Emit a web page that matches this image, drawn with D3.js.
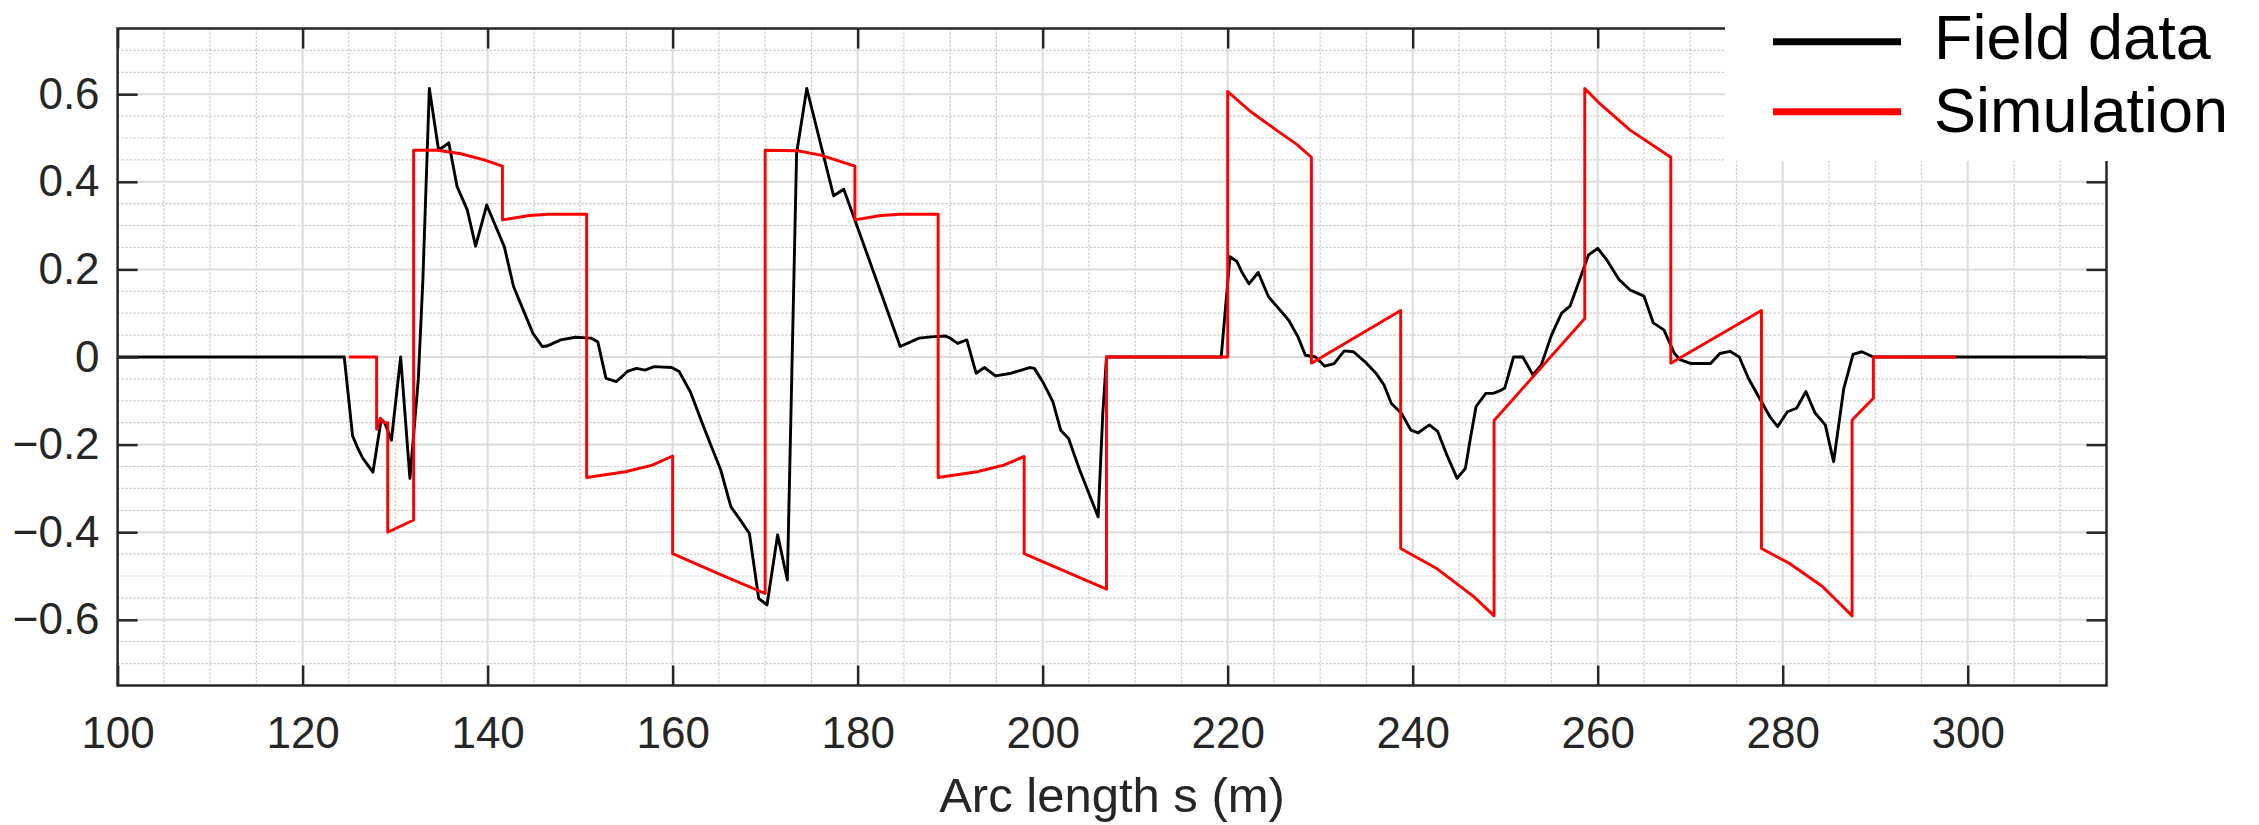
<!DOCTYPE html>
<html>
<head>
<meta charset="utf-8">
<script src="https://cdn.jsdelivr.net/npm/d3@7"></script>
<style>
  html, body { margin: 0; padding: 0; background: #fff; }
  svg { display: block; font-family: "Liberation Sans", Arial, Helvetica, sans-serif; }
</style>
</head>
<body>
<svg id="chart" width="2259" height="825"></svg>
<script>
// Field measurement: arc length (m) and value
const fieldS = [100, 124.5, 125.4, 125.9, 126.5, 127.6, 128.5, 128.9, 129.6, 130.6, 131.6, 132.5, 133.0, 133.7, 134.7,
  135.8, 136.7, 137.8, 138.7, 139.9, 141.8, 142.8, 143.7, 144.9, 145.9, 146.4, 147.9, 149.5, 151.2, 151.9,
  152.8, 153.9, 154.3, 155.1, 156.1, 157.0, 158.0, 159.9, 160.7, 161.9, 163.2, 164.2, 165.2, 166.3, 167.3,
  168.3, 169.3, 170.2, 171.35, 172.4, 173.4, 174.5, 177.4, 178.5, 179.7, 184.6, 186.65, 187.9, 189.5, 190.0,
  190.8, 191.8, 192.8, 193.7, 194.9, 196.6, 198.6, 199.1, 200.1, 201.1, 201.95, 202.8, 204.0, 206.0, 206.5,
  206.9, 219.3, 220.25, 221.0, 221.6, 222.3, 223.3, 224.4, 225.5, 226.6, 227.6, 228.4, 229.5, 230.5, 231.5,
  232.6, 233.6, 234.85, 236.1, 236.9, 237.7, 238.8, 239.8, 240.6, 241.8, 242.7, 243.7, 244.8, 245.7, 246.2,
  246.85, 247.9, 248.7, 249.45, 249.95, 250.9, 251.9, 253.0, 253.9, 255.0, 256.1, 257.0, 257.9, 259.0, 260.0,
  261.0, 262.3, 263.5, 265.0, 266.0, 267.15, 268.3, 268.9, 270.1, 272.2, 273.2, 274.3, 275.3, 276.3, 277.6,
  278.6, 279.45, 280.5, 281.5, 282.5, 283.5, 284.6, 285.5, 286.6, 287.6, 288.55, 289.8, 315];
const fieldV = [0, 0, -0.18, -0.205, -0.231, -0.263, -0.142, -0.151, -0.190, 0.0, -0.277, -0.053, 0.176, 0.613, 0.472,
  0.489, 0.389, 0.336, 0.253, 0.347, 0.252, 0.161, 0.115, 0.054, 0.024, 0.025, 0.039, 0.045, 0.043, 0.035,
  -0.049, -0.056, -0.049, -0.033, -0.026, -0.030, -0.022, -0.024, -0.033, -0.079, -0.151, -0.205, -0.258, -0.342, -0.372,
  -0.403, -0.551, -0.566, -0.406, -0.509, 0.465, 0.613, 0.368, 0.383, 0.313, 0.024, 0.043, 0.046, 0.048, 0.043,
  0.031, 0.039, -0.037, -0.024, -0.043, -0.037, -0.024, -0.026, -0.060, -0.102, -0.167, -0.186, -0.258, -0.365, -0.129,
  0, 0, 0.229, 0.218, 0.191, 0.167, 0.193, 0.138, 0.111, 0.084, 0.046, 0.004, 0.0, -0.021, -0.015,
  0.014, 0.012, -0.011, -0.039, -0.064, -0.106, -0.129, -0.167, -0.173, -0.155, -0.170, -0.224, -0.277, -0.254, -0.190,
  -0.113, -0.083, -0.083, -0.077, -0.071, 0, 0, -0.041, -0.018, 0.050, 0.100, 0.116, 0.168, 0.233, 0.248,
  0.221, 0.177, 0.153, 0.139, 0.078, 0.062, 0.008, -0.006, -0.015, -0.015, 0.008, 0.013, 0.0, -0.049, -0.098,
  -0.136, -0.159, -0.125, -0.117, -0.079, -0.128, -0.155, -0.239, -0.072, 0.006, 0.012, 0.0, 0];

// Simulation output: arc length (m) and value
const simS = [125.0, 128.0, 128.0, 128.4, 128.8, 129.2, 129.2, 132.0, 132.0, 134.6, 137.1, 139.6, 141.6, 141.6,
  144.5, 146.6, 150.7, 150.7, 154.9, 157.8, 160.0, 160.0, 165.0, 170.0, 170.0, 173.5, 176.0, 179.7, 179.7,
  182.5, 184.6, 188.7, 188.7, 192.9, 195.8, 198.0, 198.0, 202.5, 206.9, 206.9, 220.0, 220.0, 222.5, 225.0,
  227.5, 229.05, 229.05, 238.7, 238.7, 242.6, 246.6, 248.8, 248.8, 258.6, 258.6, 260.2, 263.5, 267.9, 267.9,
  277.7, 277.7, 280.7, 284.3, 287.5, 287.5, 289.8, 289.8, 298.7];
const simV = [0, 0, -0.165, -0.14, -0.15, -0.15, -0.400, -0.372, 0.472, 0.472, 0.464, 0.450, 0.436, 0.313,
  0.323, 0.326, 0.326, -0.275, -0.262, -0.247, -0.226, -0.449, -0.495, -0.540, 0.472, 0.471, 0.461, 0.436, 0.313,
  0.323, 0.326, 0.326, -0.275, -0.262, -0.247, -0.227, -0.449, -0.490, -0.530, 0, 0, 0.606, 0.560, 0.522,
  0.485, 0.456, -0.014, 0.106, -0.437, -0.483, -0.547, -0.591, -0.145, 0.088, 0.613, 0.579, 0.518, 0.456, -0.014,
  0.106, -0.437, -0.471, -0.524, -0.591, -0.144, -0.094, 0, 0];

const xTicks = [100, 120, 140, 160, 180, 200, 220, 240, 260, 280, 300];
const yTicks = [-0.6, -0.4, -0.2, 0, 0.2, 0.4, 0.6];
const xLabel = "Arc length s (m)";
const seriesNames = ["Field data", "Simulation"];
const seriesColors = ["#000000", "#ff0000"];

const svg = d3.select("#chart");
const plot = { left: 117.6, right: 2106.5, top: 28.5, bottom: 685.5 };
const W = plot.right - plot.left, H = plot.bottom - plot.top;
const axisColor = "#262626";

const x = d3.scaleLinear().domain([100, 315]).range([0, W]);
const y = d3.scaleLinear().domain([-0.75, 0.75]).range([H, 0]);

const g = svg.append("g").attr("transform", `translate(${plot.left},${plot.top})`);

// grid: minor dotted every 5 m / 0.05, major solid at tick positions
const minorX = d3.range(105, 315, 5).filter(v => v % 20 !== 0);
const minorY = d3.range(-14, 15).map(k => k * 0.05).filter(v => Math.abs(Math.round(v * 100)) % 20 !== 0);
const majorX = xTicks.filter(v => v > 100);
const majorY = yTicks;

g.append("g").selectAll("line").data(minorX).join("line")
  .attr("x1", d => x(d)).attr("x2", d => x(d)).attr("y1", 0).attr("y2", H)
  .attr("stroke", "#c2c2c2").attr("stroke-width", 1.2).attr("stroke-dasharray", "2,2");
g.append("g").selectAll("line").data(minorY).join("line")
  .attr("y1", d => y(d)).attr("y2", d => y(d)).attr("x1", 0).attr("x2", W)
  .attr("stroke", "#c2c2c2").attr("stroke-width", 1.2).attr("stroke-dasharray", "2,2");
g.append("g").selectAll("line").data(majorX).join("line")
  .attr("x1", d => x(d)).attr("x2", d => x(d)).attr("y1", 0).attr("y2", H)
  .attr("stroke", "#dcdcdc").attr("stroke-width", 2);
g.append("g").selectAll("line").data(majorY).join("line")
  .attr("y1", d => y(d)).attr("y2", d => y(d)).attr("x1", 0).attr("x2", W)
  .attr("stroke", "#dcdcdc").attr("stroke-width", 2);

// data lines (simulation drawn over field data)
const line = d3.line().x(d => x(d[0])).y(d => y(d[1]));
const fieldPts = fieldS.map((s, i) => [s, fieldV[i]]);
const simPts = simS.map((s, i) => [s, simV[i]]);

g.append("path").datum(fieldPts).attr("d", line)
  .attr("fill", "none").attr("stroke", seriesColors[0]).attr("stroke-width", 2.9).attr("stroke-linejoin", "round");
g.append("path").datum(simPts).attr("d", line)
  .attr("fill", "none").attr("stroke", seriesColors[1]).attr("stroke-width", 2.9).attr("stroke-linejoin", "round");

// axes with inward ticks
const styleAxis = sel => {
  sel.select(".domain").remove();
  sel.selectAll(".tick line").attr("stroke", axisColor).attr("stroke-width", 2.5);
  sel.selectAll(".tick text").attr("fill", axisColor).attr("font-size", 44)
    .attr("font-family", "'Liberation Sans', Arial, Helvetica, sans-serif");
};
g.append("g").attr("transform", `translate(0,${H})`)
  .call(d3.axisBottom(x).tickValues(xTicks).tickSize(-20).tickPadding(31).tickFormat(d3.format("d")))
  .call(styleAxis);
g.append("g")
  .call(d3.axisTop(x).tickValues(xTicks).tickSize(-20).tickFormat(""))
  .call(styleAxis);
g.append("g")
  .call(d3.axisLeft(y).tickValues(yTicks).tickSize(-20).tickPadding(18).tickFormat(d => d === 0 ? "0" : d3.format(".1f")(d)))
  .call(styleAxis);
g.append("g").attr("transform", `translate(${W},0)`)
  .call(d3.axisRight(y).tickValues(yTicks).tickSize(-20).tickFormat(""))
  .call(styleAxis);

// axes box
g.append("rect").attr("x", 0).attr("y", 0).attr("width", W).attr("height", H)
  .attr("fill", "none").attr("stroke", axisColor).attr("stroke-width", 2.5);

// axis title
svg.append("text").attr("x", plot.left + W / 2).attr("y", 812)
  .attr("text-anchor", "middle").attr("font-size", 49).attr("fill", axisColor)
  .text(xLabel);

// legend
const leg = svg.append("g");
leg.append("rect").attr("x", 1725).attr("y", 0).attr("width", 2259 - 1725).attr("height", 161).attr("fill", "#fff");
const legRows = [{ y: 41.7, base: 58.5 }, { y: 111.7, base: 132 }];
legRows.forEach((r, i) => {
  leg.append("line").attr("x1", 1773).attr("x2", 1901).attr("y1", r.y).attr("y2", r.y)
    .attr("stroke", seriesColors[i]).attr("stroke-width", 7);
  leg.append("text").attr("x", 1934).attr("y", r.base).attr("font-size", 63).attr("fill", "#000")
    .text(seriesNames[i]);
});
</script>
</body>
</html>
